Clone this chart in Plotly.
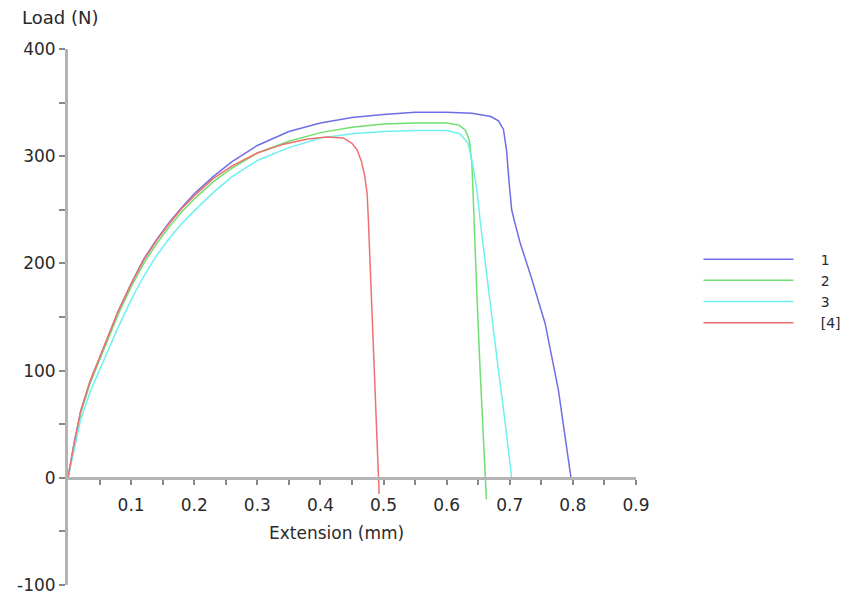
import plotly.graph_objects as go

# ---- data ----
names = ["1", "2", "3", "[4]"]
colors = ["#6e6ee6", "#6fe06f", "#6ff0f0", "#f07070"]

x1 = [0, 0.01, 0.02, 0.035, 0.05, 0.065, 0.08, 0.1, 0.12, 0.14, 0.16, 0.18, 0.2, 0.23, 0.26, 0.3, 0.35, 0.4, 0.45, 0.5,
      0.55, 0.6, 0.64, 0.67, 0.682, 0.69, 0.695, 0.699, 0.703, 0.708, 0.716, 0.734, 0.756, 0.777, 0.797]
y1 = [0, 33, 62, 90, 112, 134, 156, 181, 204, 222, 238, 252, 265, 281, 295, 310, 323, 331, 336, 339,
      341, 341, 340, 337, 333, 325, 305, 275, 250, 238, 220, 187, 144, 82, 0]

x2 = [0, 0.01, 0.02, 0.035, 0.05, 0.065, 0.08, 0.1, 0.12, 0.14, 0.16, 0.18, 0.2, 0.23, 0.26, 0.3, 0.35, 0.4, 0.45, 0.5,
      0.55, 0.6, 0.62, 0.63, 0.636, 0.64, 0.643, 0.648, 0.653, 0.658, 0.661, 0.663]
y2 = [0, 32, 60, 88, 110, 132, 153, 178, 200, 218, 234, 248, 260, 276, 289, 303, 314, 322, 327, 330,
      331, 331, 329, 324, 315, 293, 240, 170, 100, 40, 0, -20]

x3 = [0, 0.01, 0.02, 0.035, 0.05, 0.065, 0.08, 0.1, 0.12, 0.14, 0.16, 0.18, 0.2, 0.23, 0.26, 0.3, 0.35, 0.4, 0.45, 0.5,
      0.55, 0.6, 0.621, 0.634, 0.642, 0.648, 0.653, 0.665, 0.68, 0.693, 0.703]
y3 = [0, 28, 54, 80, 101, 121, 141, 166, 188, 207, 223, 237, 249, 266, 281, 296, 308, 317, 321, 323,
      324, 324, 321, 312, 290, 268, 240, 180, 110, 50, 0]

x4 = [0, 0.01, 0.02, 0.035, 0.05, 0.065, 0.08, 0.1, 0.12, 0.14, 0.16, 0.18, 0.2, 0.23, 0.26, 0.3, 0.34, 0.38, 0.41,
      0.436, 0.45, 0.458, 0.465, 0.47, 0.474, 0.476, 0.48, 0.485, 0.49, 0.493]
y4 = [0, 33, 62, 90, 112, 134, 156, 181, 203, 221, 237, 251, 263, 279, 291, 303, 311, 316, 318,
      317, 312, 306, 295, 282, 265, 240, 180, 100, 20, -15]

xs = [x1, x2, x3, x4]
ys = [y1, y2, y3, y4]

x_tickvals = [0.05, 0.1, 0.15, 0.2, 0.25, 0.3, 0.35, 0.4, 0.45, 0.5, 0.55, 0.6, 0.65, 0.7, 0.75, 0.8, 0.85, 0.9]
x_ticktext = ["", "0.1", "", "0.2", "", "0.3", "", "0.4", "", "0.5", "", "0.6", "", "0.7", "", "0.8", "", "0.9"]
y_tickvals = [-100, -50, 0, 50, 100, 150, 200, 250, 300, 350, 400]
y_ticktext = ["-100", "", "0", "", "100", "", "200", "", "300", "", "400"]

FONT = "DejaVu Sans"
TXT = "#2a2a2a"
AX = "#b4b4b4"
PAD = "&nbsp;" * 5  # gap between legend line and its label

fig = go.Figure()
for n, c, x, y in zip(names, colors, xs, ys):
    fig.add_trace(go.Scatter(x=x, y=y, mode="lines", name=PAD + n,
                             line=dict(color=c, width=1.5)))

fig.update_layout(
    width=849, height=599,
    margin=dict(l=68, r=213, t=49, b=14, autoexpand=False),
    paper_bgcolor="white", plot_bgcolor="white",
    font=dict(family=FONT, size=17, color=TXT),
    xaxis=dict(range=[0, 0.9], anchor="free", position=0.2,
               showgrid=False, zeroline=False,
               showline=True, linecolor=AX, linewidth=3,
               tickmode="array", tickvals=x_tickvals, ticktext=x_ticktext,
               ticks="outside", ticklen=5, tickwidth=1.5, tickcolor="#888888",
               ticklabelstandoff=6,
               tickfont=dict(size=17, color=TXT)),
    yaxis=dict(range=[-100, 400], domain=[0, 1],
               showgrid=False, zeroline=False,
               showline=True, linecolor=AX, linewidth=3,
               tickmode="array", tickvals=y_tickvals, ticktext=y_ticktext,
               ticks="outside", ticklen=6, tickwidth=1.5, tickcolor="#888888",
               tickfont=dict(size=17, color=TXT)),
    legend=dict(x=1.11, y=0.637, xanchor="left", yanchor="top",
                font=dict(size=14, color=TXT), itemwidth=90,
                bgcolor="rgba(0,0,0,0)", tracegroupgap=0),
    annotations=[
        dict(text="Load (N)", xref="paper", yref="paper", x=-0.085, y=1.058,
             xanchor="left", yanchor="middle", showarrow=False,
             font=dict(size=18, color=TXT)),
        dict(text="Extension (mm)", xref="paper", yref="paper", x=0.472, y=0.097,
             xanchor="center", yanchor="middle", showarrow=False,
             font=dict(size=17, color=TXT)),
    ],
)

fig.write_html("out.html")
